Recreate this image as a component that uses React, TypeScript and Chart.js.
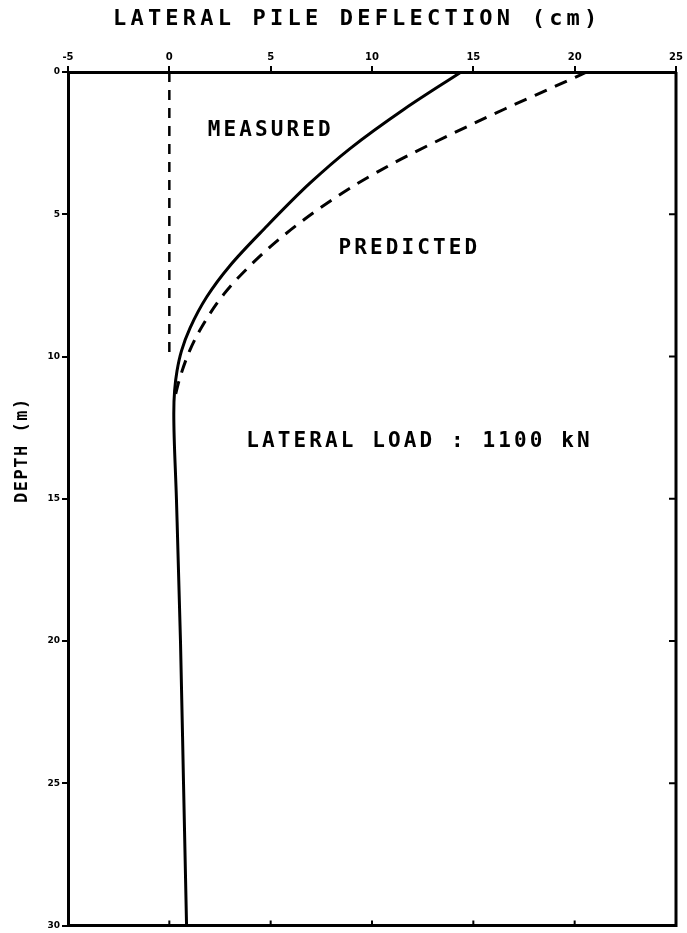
import React, { useEffect, useRef } from "react";
import { Chart, registerables } from "chart.js";

Chart.register(...registerables);

// Measured lateral pile deflection (cm) vs depth (m)
const measuredDepth = [0, 1.3, 2.7, 3.9, 5.5, 6.8, 7.9, 9.0, 9.8, 10.5, 11.2, 12, 15, 20, 25, 30];
const measuredDefl = [14.4, 11.6, 8.9, 6.95, 4.7, 3.0, 1.85, 1.02, 0.6, 0.38, 0.26, 0.22, 0.35, 0.55, 0.7, 0.85];

// Predicted lateral pile deflection
const predictedDepth = [0, 0.5, 1.3, 1.9, 2.5, 3.0, 3.5, 4.0, 4.8, 5.8, 6.9, 7.8, 8.9, 9.8, 10.8, 11.5];
const predictedDefl = [20.6, 19.05, 16.55, 14.75, 13.0, 11.6, 10.3, 9.1, 7.4, 5.55, 3.85, 2.7, 1.65, 1.0, 0.5, 0.25];

// Zero reference line
const zeroDepth = [0, 10];
const zeroDefl = [0, 0];

const deflTicks = [-5, 0, 5, 10, 15, 20, 25];
const depthTicks = [0, 5, 10, 15, 20, 25, 30];

const titleText = "LATERAL PILE DEFLECTION (cm)";
const yTitleText = "DEPTH (m)";
const annotationText = ["MEASURED", "PREDICTED", "LATERAL LOAD : 1100 kN"];
const annotationDefl = [1.9, 8.35, 3.8];
const annotationDepth = [2.05, 6.2, 13.0];

const toPts = (xs: number[], ys: number[]) => xs.map((v, i) => ({ x: v, y: ys[i] }));

const decoPlugin = {
  id: "deco",
  afterDraw(chart: any) {
    const { ctx, chartArea: ca, scales } = chart;
    const x = scales.x;
    const y = scales.y;
    ctx.save();
    ctx.strokeStyle = "#000";
    ctx.fillStyle = "#000";
    ctx.lineWidth = 3;
    ctx.beginPath();
    ctx.moveTo(ca.right, ca.top);
    ctx.lineTo(ca.right, ca.bottom);
    ctx.lineTo(ca.left, ca.bottom);
    ctx.stroke();
    ctx.lineWidth = 2;
    ctx.beginPath();
    for (const v of depthTicks.slice(1, -1)) {
      const py = y.getPixelForValue(v);
      ctx.moveTo(ca.right, py);
      ctx.lineTo(ca.right - 7, py);
    }
    for (const v of deflTicks.slice(1, -1)) {
      const px = x.getPixelForValue(v);
      ctx.moveTo(px, ca.bottom);
      ctx.lineTo(px, ca.bottom - 5);
    }
    ctx.stroke();

    // title
    ctx.font = "bold 22px 'DejaVu Sans Mono'";
    (ctx as any).letterSpacing = "4.2px";
    ctx.textAlign = "left";
    ctx.textBaseline = "middle";
    ctx.fillText(titleText, 113, 19);

    // y title
    ctx.save();
    ctx.font = "bold 17px 'DejaVu Sans Mono'";
    (ctx as any).letterSpacing = "1.5px";
    ctx.translate(23, 503);
    ctx.rotate(-Math.PI / 2);
    ctx.fillText(yTitleText, 0, 0);
    ctx.restore();

    // annotations
    ctx.font = "bold 21px 'DejaVu Sans Mono'";
    (ctx as any).letterSpacing = "3.1px";
    ctx.textAlign = "left";
    annotationText.forEach((t, i) => {
      ctx.fillText(t, x.getPixelForValue(annotationDefl[i]), y.getPixelForValue(annotationDepth[i]));
    });
    (ctx as any).letterSpacing = "0px";
    ctx.restore();
  },
};

export default function App() {
  const ref = useRef<HTMLCanvasElement>(null);
  useEffect(() => {
    document.body.style.margin = "0";
    const chart = new Chart(ref.current!, {
      type: "scatter",
      data: {
        datasets: [
          {
            label: "Measured",
            data: toPts(measuredDefl, measuredDepth),
            showLine: true,
            indexAxis: "y",
            borderColor: "#000",
            borderWidth: 3,
            pointRadius: 0,
            cubicInterpolationMode: "monotone",
          } as any,
          {
            label: "Predicted",
            data: toPts(predictedDefl, predictedDepth),
            showLine: true,
            indexAxis: "y",
            borderColor: "#000",
            borderWidth: 3,
            borderDash: [13, 9],
            pointRadius: 0,
            cubicInterpolationMode: "monotone",
          } as any,
          {
            label: "Zero",
            data: toPts(zeroDefl, zeroDepth),
            showLine: true,
            borderColor: "#000",
            borderWidth: 2.5,
            borderDash: [10, 8],
            pointRadius: 0,
          },
        ],
      },
      options: {
        responsive: false,
        animation: false,
        layout: { padding: { top: 0, left: 0, right: 11, bottom: 6 } },
        plugins: { legend: { display: false }, tooltip: { enabled: false } },
        scales: {
          x: {
            type: "linear",
            position: "top",
            min: -5,
            max: 25,
            afterBuildTicks: (s: any) => {
              s.ticks = deflTicks.map((v) => ({ value: v }));
            },
            ticks: { color: "#000", font: { family: "DejaVu Sans", size: 10, weight: "bold" }, padding: 3 },
            grid: { drawOnChartArea: false, tickLength: 6, color: "#000", lineWidth: 2 },
            border: { color: "#000", width: 3 },
            afterFit: (s: any) => {
              s.height = 72;
            },
          },
          y: {
            type: "linear",
            position: "left",
            reverse: true,
            min: 0,
            max: 30,
            afterBuildTicks: (s: any) => {
              s.ticks = depthTicks.map((v) => ({ value: v }));
            },
            ticks: { color: "#000", font: { family: "DejaVu Sans", size: 9, weight: "bold" }, padding: 2 },
            grid: { drawOnChartArea: false, tickLength: 6, color: "#000", lineWidth: 2 },
            border: { color: "#000", width: 3 },
            afterFit: (s: any) => {
              s.width = 68;
            },
          },
        },
      },
      plugins: [decoPlugin],
    });
    return () => chart.destroy();
  }, []);
  return (
    <div style={{ width: 687, height: 933, background: "#fff" }}>
      <canvas ref={ref} width={687} height={933} />
    </div>
  );
}
